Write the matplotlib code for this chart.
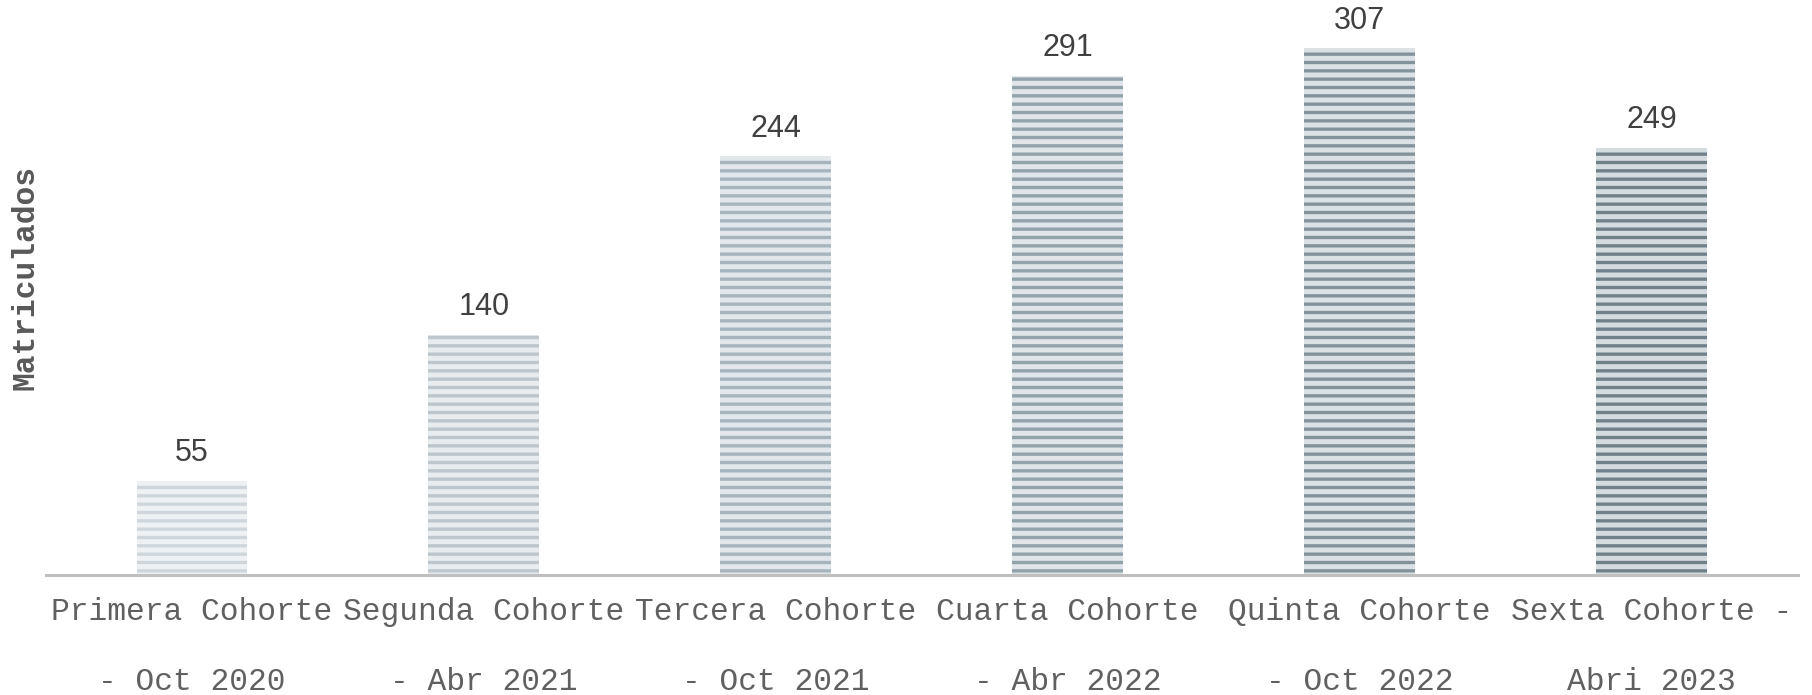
import matplotlib
matplotlib.use("Agg")
import matplotlib.pyplot as plt

categories = ["Primera Cohorte\n- Oct 2020", "Segunda Cohorte\n- Abr 2021", "Tercera Cohorte\n- Oct 2021",
              "Cuarta Cohorte\n- Abr 2022", "Quinta Cohorte\n- Oct 2022", "Sexta Cohorte -\nAbri 2023"]
values = [55, 140, 244, 291, 307, 249]
face_colors = ["#eef1f3", "#e8ecef", "#e1e7ea", "#dfe5e8", "#dbe2e5", "#d5dce0"]
stripe_colors = ["#cfd6db", "#bcc6cc", "#a6b5bd", "#93a3ac", "#83939c", "#71818a"]

plt.rcParams['hatch.linewidth'] = 2.4

fig = plt.figure(figsize=(18.12, 6.95), dpi=100)
ax = fig.add_axes([0.0254, 0.1727, 0.9666, 0.8273])

x = list(range(len(values)))
bars = ax.bar(x, values, width=0.38, color=face_colors, edgecolor=stripe_colors,
              linewidth=0, hatch='--')

for xi, v in zip(x, values):
    ax.annotate(str(v), (xi, v), xytext=(0, 9), textcoords='offset points',
                ha='center', va='bottom', fontsize=22, color='#404040',
                family='Liberation Sans')

ax.set_xlim(-0.5, 5.5)
ax.set_ylim(0, 335)
ax.set_xticks(x)
ax.set_xticklabels(categories, family='Liberation Mono', fontsize=22.5, color='#606060',
                   linespacing=2.75)
ax.tick_params(axis='x', length=0, pad=16)
ax.set_yticks([])
for s in ['top', 'right', 'left']:
    ax.spines[s].set_visible(False)
ax.spines['bottom'].set_color('#bfbfbf')
ax.spines['bottom'].set_linewidth(2.2)

fig.text(0.0138, 0.601, "Matriculados", rotation=90, ha='center', va='center',
         family='Liberation Mono', fontweight='bold', fontsize=22.5, color='#595959')

fig.savefig("out.png", dpi=100)
